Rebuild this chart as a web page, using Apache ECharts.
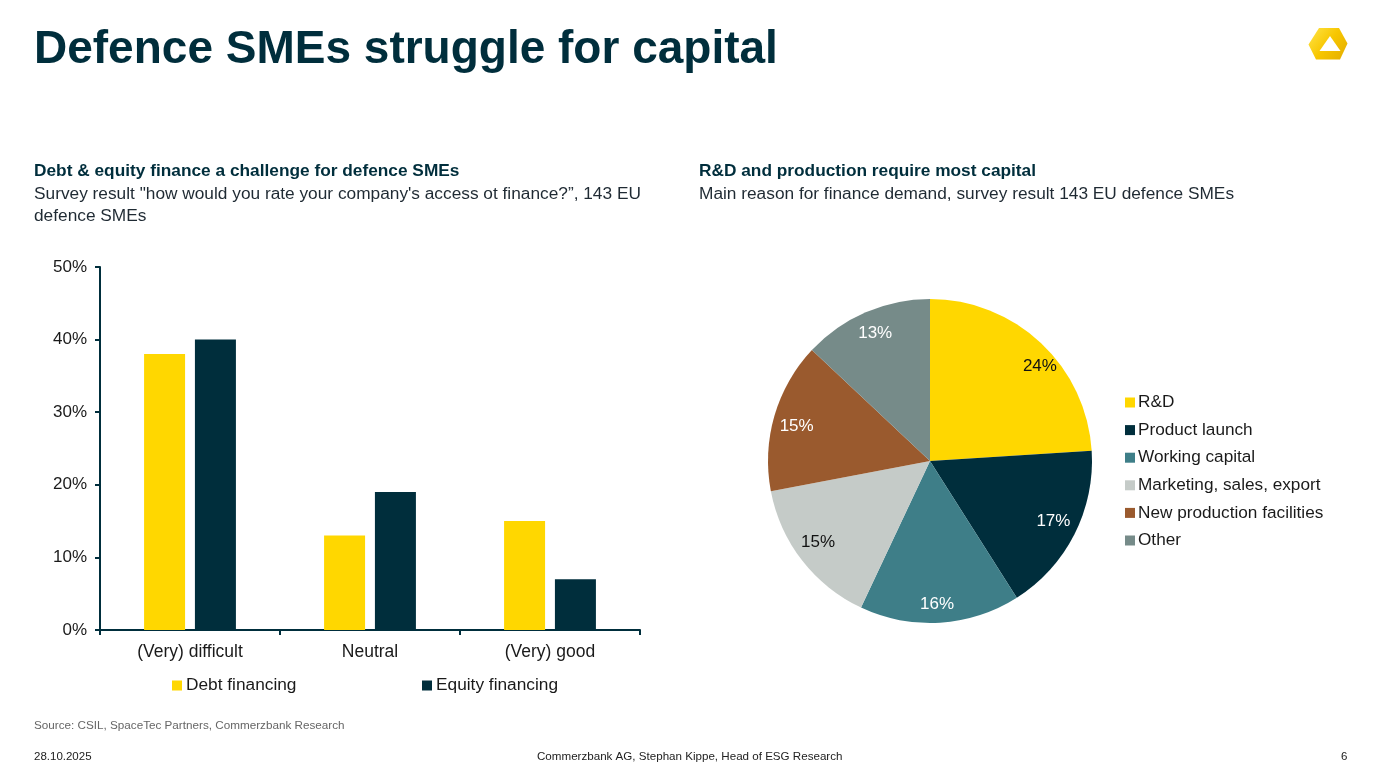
<!DOCTYPE html>
<html>
<head>
<meta charset="utf-8">
<script src="https://cdn.jsdelivr.net/npm/echarts@6/dist/echarts.min.js"></script>
<style>
  html, body { margin: 0; padding: 0; background: #fff; }
  #main { width: 1380px; height: 779px; }
</style>
</head>
<body>
<div id="main"></div>
<script>
// bar chart data
var categories = ['(Very) difficult', 'Neutral', '(Very) good']
var debtValues = [38, 13, 15]
var equityValues = [40, 19, 7]
var yTicks = [0, 10, 20, 30, 40, 50]

// pie chart data
var reasonNames = ['R&D', 'Product launch', 'Working capital', 'Marketing, sales, export', 'New production facilities', 'Other']
var reasonValues = [24, 17, 16, 15, 15, 13]

// styles
var reasonColors = ['#FFD700', '#002E3C', '#3E7E88', '#C5CBC8', '#9A5A2E', '#768B89']
var labelColors = ['#111', '#fff', '#fff', '#111', '#fff', '#fff']
var labelNudge = [[12, 10], [-4, -5], [-2, 1], [1, -6], [4, 5], [2, 4]]

var navy = '#002E3C'
var font = 'Liberation Sans, Arial, sans-serif'

var myChart = echarts.init(document.getElementById('main'))

var pieData = reasonNames.map(function (n, i) {
  return { name: n, value: reasonValues[i], itemStyle: { color: reasonColors[i] } }
})
var pieLabelData = reasonNames.map(function (n, i) {
  return { name: n, value: reasonValues[i], label: { color: labelColors[i], offset: labelNudge[i] } }
})

function txt (x, y, text, size, color, weight) {
  return {
    type: 'text', left: x, top: y, silent: true,
    style: { text: text, fontSize: size, fill: color, fontWeight: weight || 'normal', fontFamily: font }
  }
}

var option = {
  animation: false,
  textStyle: { fontFamily: font },
  graphic: [
    txt(34, 27, 'Defence SMEs struggle for capital', 46, navy, 'bold'),
    txt(34, 163, 'Debt & equity finance a challenge for defence SMEs', 17.3, navy, 'bold'),
    txt(34, 185.5, 'Survey result "how would you rate your company\'s access ot finance?\u201d, 143 EU', 17.3, '#1f2a33'),
    txt(34, 208, 'defence SMEs', 17.3, '#1f2a33'),
    txt(699, 163, 'R&D and production require most capital', 17.3, navy, 'bold'),
    txt(699, 185.5, 'Main reason for finance demand, survey result 143 EU defence SMEs', 17.3, '#1f2a33'),
    txt(34, 720, 'Source: CSIL, SpaceTec Partners, Commerzbank Research', 11.7, '#666'),
    txt(34, 751, '28.10.2025', 11.5, '#222'),
    txt(537, 751, 'Commerzbank AG, Stephan Kippe, Head of ESG Research', 11.6, '#222'),
    txt(1341, 751, '6', 11.5, '#222'),
    // logo
    {
      type: 'polygon', silent: true,
      shape: { points: [[1319, 28], [1339, 28], [1347.5, 43.5], [1340, 59.5], [1316, 59.5], [1308.5, 44.5]] },
      style: {
        fill: new echarts.graphic.LinearGradient(0, 0, 1, 1, [
          { offset: 0, color: '#FFE54A' }, { offset: 0.5, color: '#F7C600' }, { offset: 1, color: '#E3AC00' }
        ])
      }
    },
    {
      type: 'polygon', silent: true,
      shape: { points: [[1330, 36], [1319.5, 51], [1340.5, 51]] },
      style: { fill: '#fff' }
    }
  ],
  legend: [
    {
      data: ['Debt financing'], left: 167, top: 672, icon: 'rect', itemWidth: 10, itemHeight: 10,
      textStyle: { fontSize: 17.3, color: '#1a1a1a', fontFamily: font, padding: [0, 0, 0, -1] }
    },
    {
      data: ['Equity financing'], left: 417, top: 672, icon: 'rect', itemWidth: 10, itemHeight: 10,
      textStyle: { fontSize: 17.3, color: '#1a1a1a', fontFamily: font, padding: [0, 0, 0, -1] }
    },
    {
      data: reasonNames, orient: 'vertical', left: 1120, top: 389, icon: 'rect', itemWidth: 10, itemHeight: 10, itemGap: 10.6,
      textStyle: { fontSize: 17.2, color: '#1a1a1a', fontFamily: font, padding: [0, 0, 0, -2] }
    }
  ],
  grid: { left: 100, right: 740, top: 267, bottom: 149 },
  xAxis: {
    type: 'category',
    data: categories,
    axisLine: { lineStyle: { color: navy, width: 2 } },
    axisTick: { show: true, length: 5, lineStyle: { color: navy, width: 2 } },
    axisLabel: { fontSize: 17.5, color: '#1a1a1a', margin: 13, fontFamily: font }
  },
  yAxis: {
    type: 'value',
    min: yTicks[0],
    max: yTicks[yTicks.length - 1],
    interval: yTicks[1] - yTicks[0],
    axisLine: { show: true, lineStyle: { color: navy, width: 2 } },
    axisTick: { show: true, length: 5, lineStyle: { color: navy, width: 2 } },
    axisLabel: { fontSize: 17, color: '#1a1a1a', margin: 13, formatter: '{value}%', fontFamily: font },
    splitLine: { show: false }
  },
  series: [
    {
      name: 'Debt financing', type: 'bar', data: debtValues, barWidth: 41, barGap: '24%',
      itemStyle: { color: '#FFD700' }
    },
    {
      name: 'Equity financing', type: 'bar', data: equityValues, barWidth: 41,
      itemStyle: { color: navy }
    },
    {
      type: 'pie', center: [930, 461], radius: 162, startAngle: 90, clockwise: true,
      data: pieData, label: { show: false }, labelLine: { show: false }, silent: true
    },
    {
      // transparent ring only used to place the labels near the rim
      type: 'pie', center: [930, 461], radius: [120, 160], startAngle: 90, clockwise: true,
      data: pieLabelData, silent: true, itemStyle: { color: 'rgba(0,0,0,0)' },
      label: { show: true, position: 'inside', formatter: '{c}%', fontSize: 17, fontFamily: font },
      labelLine: { show: false }
    }
  ]
}

myChart.setOption(option)
</script>
</body>
</html>
